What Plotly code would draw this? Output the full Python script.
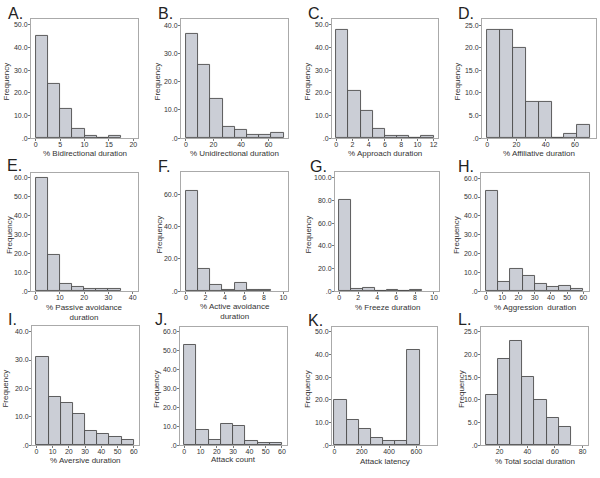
import plotly.graph_objects as go

W, H = 600, 478

# ---------------- data ----------------
letters = ["A.", "B.", "C.", "D.", "E.", "F.", "G.", "H.", "I.", "J.", "K.", "L."]
x_titles = ["% Bidirectional duration", "% Unidirectional duration", "% Approach duration",
            "% Affiliative duration", "% Passive avoidance<br>duration",
            "% Active avoidance<br>duration", "% Freeze duration", "% Aggression  duration",
            "% Aversive duration", "Attack count", "Attack latency", "% Total social duration"]

counts_A = [45, 24, 13, 4, 1, 0, 1]
counts_B = [37, 26, 14, 4, 3, 1, 1, 2]
counts_C = [48, 21, 12, 4, 1, 1, 0, 1]
counts_D = [24, 24, 20, 8, 8, 0, 1, 3]
counts_E = [60, 19, 4, 2, 1, 1, 1]
counts_F = [62, 14, 4, 1, 5, 1, 1]
counts_G = [81, 2, 3, 0, 1, 0, 1]
counts_H = [53, 5, 12, 8, 4, 2, 3, 1]
counts_I = [31, 17, 15, 11, 5, 4, 3, 2]
counts_J = [53, 8, 3, 11, 10, 2, 1, 1]
counts_K = [20, 11, 7, 3, 2, 2, 42]
counts_L = [11, 19, 23, 15, 10, 6, 4]
all_counts = [counts_A, counts_B, counts_C, counts_D, counts_E, counts_F,
              counts_G, counts_H, counts_I, counts_J, counts_K, counts_L]

bin_start = [0, 0, 0, 0, 0, 0, 0, 0, 0, 0, 0, 10]
bin_width = [2.5, 8.86, 1.5, 8.8, 5, 1.25, 1.25, 7.5, 7.5, 7.5, 89, 8.8]

x_ticks = [[0, 5, 10, 15, 20], [0, 20, 40, 60], [0, 2, 4, 6, 8, 10, 12], [0, 20, 40, 60],
           [0, 10, 20, 30, 40], [0, 2, 4, 6, 8, 10], [0, 2, 4, 6, 8, 10],
           [0, 10, 20, 30, 40, 50, 60], [0, 10, 20, 30, 40, 50, 60],
           [0, 10, 20, 30, 40, 50, 60], [0, 200, 400, 600], [20, 40, 60, 80]]
y_ticks = [[0, 10, 20, 30, 40, 50], [0, 10, 20, 30, 40], [0, 10, 20, 30, 40, 50],
           [0, 5, 10, 15, 20, 25], [0, 10, 20, 30, 40, 50, 60], [0, 20, 40, 60],
           [0, 20, 40, 60, 80, 100], [0, 10, 20, 30, 40, 50, 60], [0, 10, 20, 30, 40],
           [0, 10, 20, 30, 40, 50, 60], [0, 10, 20, 30, 40, 50], [0, 5, 10, 15, 20, 25]]

x_ranges = [[-0.96, 20.96], [-3.6, 74.1], [-0.53, 12.54], [-3.6, 74.4],
            [-1.9, 42.2], [-0.51, 10.48], [-0.45, 10.53], [-3.1, 63.5],
            [-2.7, 63.2], [-2.6, 63.1], [-17.6, 750.7], [6.55, 83.9]]
y_ranges = [[0, 52.7], [0, 42.2], [0, 52.7], [0, 26.4], [0, 62.6], [0, 73.7],
            [0, 105.3], [0, 62.8], [0, 42], [0, 62.6], [0, 52.2], [0, 26.1]]

# ---------------- layout (pixel boxes: left, right, top, bottom) ----------------
boxes = [(31, 138, 19, 139), (181, 288, 19, 139), (332, 438, 19, 139), (482, 596, 19, 139),
         (31, 138, 174, 293), (181, 288, 173, 293), (335, 439, 173, 293), (481, 589, 174, 293),
         (32, 139, 328, 448), (180, 287, 329, 448), (332, 437, 329, 448), (481, 588, 329, 448)]
letter_pos = [(6, 3), (156, 3), (306, 3), (456, 3),
              (5, 156), (156, 157), (308, 157), (456, 157),
              (6, 311), (153, 311), (306, 312), (456, 311)]
freq_x = [6, 157, 307, 457, 9, 160, 309, 456, 6, 156, 307, 461]
title_y = [148, 148, 148, 148, 303, 302, 303, 303, 457, 456, 458, 458]

FONT = "Liberation Sans, Arial, sans-serif"
TXT = "#333333"

def fmt(v):
    s = "%.1f" % v
    return ".0" if v == 0 else s

fig = go.Figure()
annotations = []
layout = {}
for i in range(12):
    n = "" if i == 0 else str(i + 1)
    l, r, t, b = boxes[i]
    centers = [bin_start[i] + bin_width[i] * (k + 0.5) for k in range(len(all_counts[i]))]
    fig.add_trace(go.Bar(
        x=centers, y=all_counts[i], width=bin_width[i],
        marker=dict(color="#cbced6", line=dict(color="#4d4d4d", width=0.9)),
        xaxis="x" + n, yaxis="y" + n, showlegend=False, hoverinfo="skip"))
    common = dict(showline=True, mirror=True, linecolor="#aaaaaa", linewidth=1,
                  ticks="outside", ticklen=2, tickcolor="#777777", tickwidth=1,
                  showgrid=False, zeroline=False,
                  tickfont=dict(family=FONT, size=7, color=TXT))
    layout["xaxis" + n] = dict(common, domain=[l / W, r / W], range=x_ranges[i],
                               anchor="y" + n, tickvals=x_ticks[i],
                               ticklabelstandoff=-3,
                               ticktext=[str(v) for v in x_ticks[i]])
    layout["yaxis" + n] = dict(common, domain=[1 - b / H, 1 - t / H], range=y_ranges[i],
                               anchor="x" + n, tickvals=y_ticks[i],
                               ticklabelstandoff=-1,
                               ticktext=[fmt(v) for v in y_ticks[i]])
    lx, ly = letter_pos[i]
    annotations.append(dict(text=letters[i], x=lx / W, y=1 - ly / H, xref="paper", yref="paper",
                            xanchor="left", yanchor="top", showarrow=False,
                            font=dict(family=FONT, size=16, color="#222222")))
    annotations.append(dict(text="Frequency", x=freq_x[i] / W, y=1 - ((t + b) / 2 + 3) / H,
                            xref="paper", yref="paper", textangle=-90, showarrow=False,
                            xanchor="center", yanchor="middle",
                            font=dict(family=FONT, size=8, color=TXT)))
    annotations.append(dict(text=x_titles[i], x=(l + r) / 2 / W, y=1 - title_y[i] / H,
                            xref="paper", yref="paper", showarrow=False,
                            xanchor="center", yanchor="top",
                            font=dict(family=FONT, size=8, color=TXT)))

fig.update_layout(width=W, height=H, margin=dict(l=0, r=0, t=0, b=0),
                  paper_bgcolor="white", plot_bgcolor="white", bargap=0,
                  annotations=annotations, **layout)
fig.write_html("out.html", post_script="document.body.style.margin='0';",
               config={"displayModeBar": False})
